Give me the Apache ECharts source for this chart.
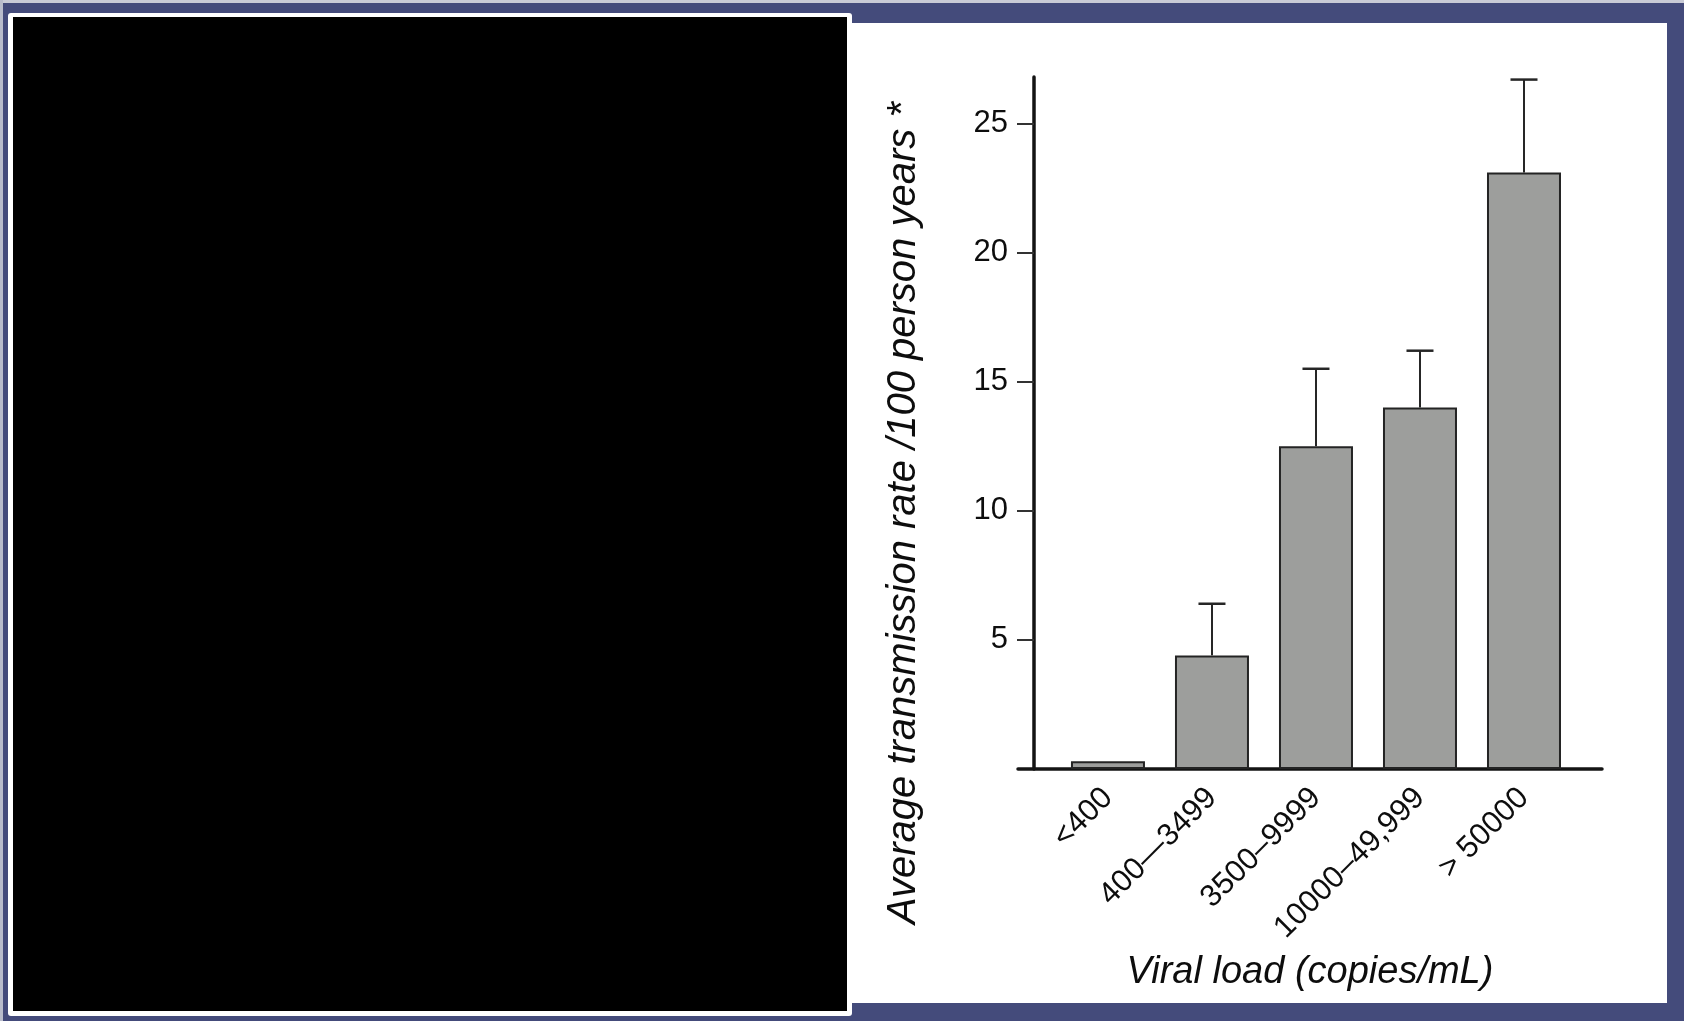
<!DOCTYPE html>
<html>
<head>
<meta charset="utf-8">
<title>Viral load and transmission rate</title>
<script src="https://cdn.jsdelivr.net/npm/echarts@6/dist/echarts.min.js"></script>
<style>
  html, body { margin: 0; padding: 0; }
  body { width: 1684px; height: 1021px; background: #444b7b; position: relative; overflow: hidden; }
  .edge-top { position: absolute; left: 0; top: 0; width: 1684px; height: 3px; background: #c9cbd6; }
  .edge-left { position: absolute; left: 0; top: 0; width: 3px; height: 1021px; background: #b9bccb; }
  .photo-frame { position: absolute; left: 8px; top: 13px; width: 844px; height: 1003px; background: #ffffff; border-radius: 3px; }
  .photo { position: absolute; left: 13px; top: 17px; width: 834px; height: 994px; background: #000000; }
  .panel { position: absolute; left: 852px; top: 23px; width: 815px; height: 980px; background: #ffffff; }
  #chart { position: absolute; left: 0; top: 0; width: 1684px; height: 1021px; }
</style>
</head>
<body>
<div class="edge-top"></div>
<div class="edge-left"></div>
<div class="photo-frame"></div>
<div class="photo"></div>
<div class="panel"></div>
<div id="chart"></div>
<script>
// Viral load groups and mean transmission rate per 100 person-years
const categories = ['<400', '400\u20143499', '3500\u20139999', '10000\u201349,999', '> 50000'];
const rates = [0.3, 4.4, 12.5, 14.0, 23.1];
// upper end of each error bar (no bar drawn for the lowest group)
const upperRates = [null, 6.4, 15.5, 16.2, 26.7];
const yTicks = [5, 10, 15, 20, 25];

const FONT = '"Liberation Sans", Arial, Helvetica, sans-serif';
const INK = '#141414';
const TEXT = '#0d0d0d';

const barData = rates.map((v, i) => [i, v]);
const errData = [];
rates.forEach((v, i) => {
  if (upperRates[i] != null) errData.push([i, v, upperRates[i]]);
});

const chart = echarts.init(document.getElementById('chart'), null, { renderer: 'canvas' });

chart.setOption({
  animation: false,
  backgroundColor: 'transparent',
  grid: { left: 1018, right: 82, top: 77, bottom: 252, containLabel: false },
  xAxis: {
    type: 'value',
    min: -0.865,
    max: 4.75,
    splitLine: { show: false },
    axisLine: { show: true, onZero: false, lineStyle: { color: INK, width: 3.5 } },
    axisTick: { show: false },
    axisLabel: {
      customValues: categories.map((c, i) => i),
      formatter: (v) => categories[Math.round(v)],
      rotate: 45,
      margin: 24,
      fontFamily: FONT,
      fontSize: 31,
      color: TEXT
    },
    name: 'Viral load (copies/mL)',
    nameLocation: 'middle',
    nameGap: 184,
    nameTextStyle: { fontFamily: FONT, fontSize: 38, fontStyle: 'italic', color: TEXT }
  },
  yAxis: {
    type: 'value',
    min: 0,
    max: 26.8,
    offset: -16,
    splitLine: { show: false },
    axisLine: { show: true, onZero: false, lineStyle: { color: INK, width: 3.5 } },
    axisTick: { show: true, customValues: yTicks, length: 17, lineStyle: { color: '#333333', width: 2 } },
    axisLabel: {
      customValues: yTicks,
      margin: 26,
      fontFamily: FONT,
      fontSize: 31,
      color: TEXT
    }
  },
  graphic: [{
    type: 'text',
    x: 904,
    y: 513,
    rotation: Math.PI / 2,
    style: {
      text: 'Average transmission rate /100 person years *',
      fontFamily: FONT,
      fontSize: 40,
      fontStyle: 'italic',
      fill: TEXT,
      align: 'center',
      verticalAlign: 'middle'
    }
  }],
  series: [
    {
      type: 'bar',
      data: barData,
      barWidth: 74,
      itemStyle: { color: '#9d9e9c', borderColor: '#242424', borderWidth: 2 },
      z: 2
    },
    {
      type: 'custom',
      data: errData,
      z: 3,
      renderItem: function (params, api) {
        const base = api.coord([api.value(0), api.value(1)]);
        const top = api.coord([api.value(0), api.value(2)]);
        const half = 13.5;
        return {
          type: 'group',
          children: [
            { type: 'line', shape: { x1: base[0], y1: base[1], x2: top[0], y2: top[1] },
              style: { stroke: '#262626', lineWidth: 2 } },
            { type: 'line', shape: { x1: top[0] - half, y1: top[1], x2: top[0] + half, y2: top[1] },
              style: { stroke: '#262626', lineWidth: 2.5 } }
          ]
        };
      }
    }
  ]
});
</script>
</body>
</html>
